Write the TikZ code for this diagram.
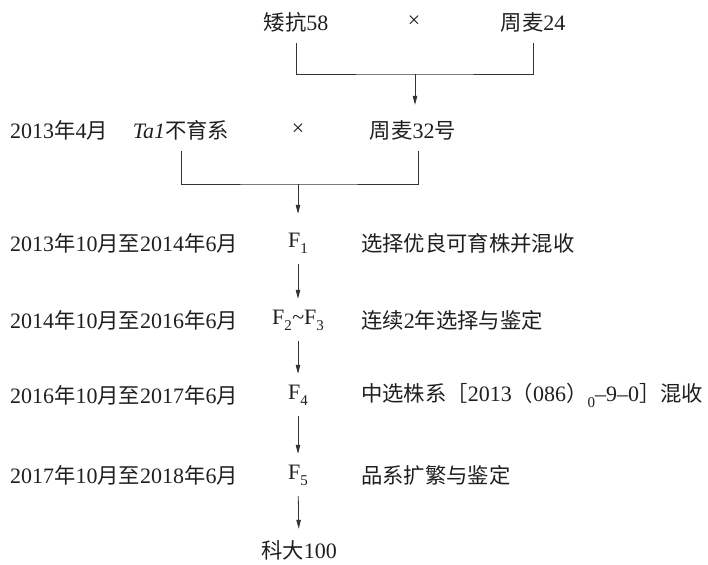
\documentclass[tikz,border=0pt]{standalone}
\usepackage{fontspec}
\setmainfont{Liberation Serif}
\newfontfamily\zh{Noto Sans CJK SC}[Scale=0.97]
\usetikzlibrary{arrows.meta}
\newcommand{\zsub}[1]{\raisebox{-0.6ex}{\fontsize{15}{15}\selectfont #1}}
\begin{document}
\begin{tikzpicture}[x=1pt,y=-1pt,
  font=\fontsize{22}{26}\selectfont,
  every node/.style={text=black!88},
  lbl/.style={inner sep=0pt, minimum height=42pt},
  lab/.style={inner sep=0pt, anchor=west},
  conn/.style={draw=black!80, line width=0.8pt},
  arr/.style={conn, -{Triangle[length=9pt,width=4.5pt]}}]
\path[use as bounding box] (0,0) rectangle (708,564);
% top cross
\node[lbl] (a) at (296,22) {{\zh 矮抗}58};
\node[lbl] (x1) at (414,22) {×};
\node[lbl] (b) at (533,22) {{\zh 周麦}24};
\coordinate (j1) at (415,74);
\draw[conn] (a.south) |- (j1) -| (b.south);
% second cross
\node[lab] (d0) at (10,130) {2013{\zh 年}4{\zh 月}};
\node[lbl] (c) at (181,130) {\textit{Ta1}{\zh 不育系}};
\node[lbl] (x2) at (298,130) {×};
\node[lbl] (e) at (413,130) {{\zh 周麦}32{\zh 号}};
\draw[arr, shorten >=4pt] (j1) -- (j1 |- e.north);
\coordinate (j2) at (298,184);
\draw[conn] (c.south) |- (j2) -| ([xshift=5pt]e.south);
% generations
\node[lbl] (f1) at (298,243) {F\zsub{1}};
\node[lbl] (f2) at (298,320) {F\zsub{2}\kern0.5pt\textasciitilde F\zsub{3}};
\node[lbl] (f4) at (298,395) {F\zsub{4}};
\node[lbl] (f5) at (298,475) {F\zsub{5}};
\node[lbl] (k) at (299,550) {{\zh 科大}100};
\draw[arr, shorten >=8pt] (j2) -- (f1.north);
\draw[arr] (f1) -- (f2);
\draw[arr] (f2) -- (f4);
\draw[arr] (f4) -- (f5);
\draw[arr] (f5) -- (k);
% time labels
\node[lab] (t1) at (10,243) {2013{\zh 年}10{\zh 月至}2014{\zh 年}6{\zh 月}};
\node[lab] (t2) at (10,320) {2014{\zh 年}10{\zh 月至}2016{\zh 年}6{\zh 月}};
\node[lab] (t4) at (10,395) {2016{\zh 年}10{\zh 月至}2017{\zh 年}6{\zh 月}};
\node[lab] (t5) at (10,475) {2017{\zh 年}10{\zh 月至}2018{\zh 年}6{\zh 月}};
% descriptions
\node[lab] (r1) at (361,243) {{\zh 选择优良可育株并混收}};
\node[lab] (r2) at (361,320) {{\zh 连续}2{\zh 年选择与鉴定}};
\node[lab] (r4) at (361,395) {{\zh 中选株系［}2013{\zh （}086{\zh ）}\zsub{0}–9–0{\zh ］混收}};
\node[lab] (r5) at (361,475) {{\zh 品系扩繁与鉴定}};
\end{tikzpicture}
\end{document}
